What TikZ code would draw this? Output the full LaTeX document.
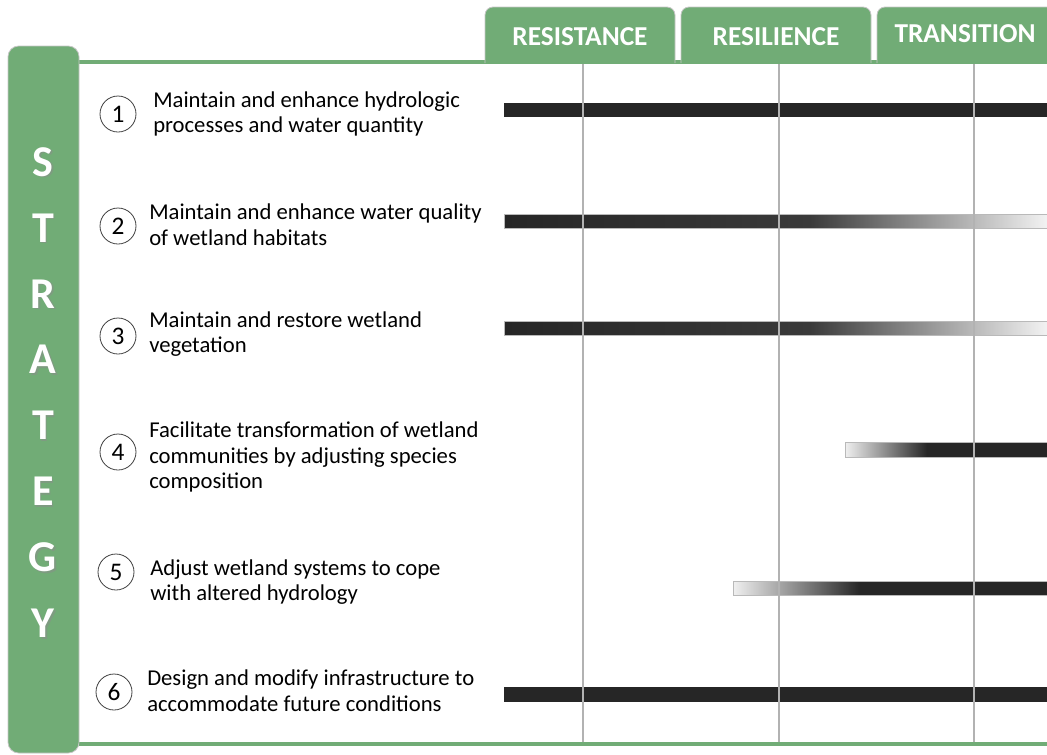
\documentclass[tikz,border=0pt]{standalone}
\usepackage{fontspec}
\setmainfont{Carlito}
\usetikzlibrary{positioning}
\definecolor{stratgreen}{RGB}{113,172,118}
\definecolor{bardark}{RGB}{38,38,38}
\definecolor{barmid}{RGB}{58,58,58}
\definecolor{gridgray}{RGB}{178,178,178}

\begin{document}
\begin{tikzpicture}[x=0.75pt,y=-0.75pt,
    tab/.style={fill=stratgreen,draw=gray!45,line width=0.6pt,rounded corners=6pt},
    tablabel/.style={text=white,font=\fontsize{20.5}{24}\selectfont\bfseries},
    letter/.style={text=white,font=\fontsize{33}{36}\selectfont\bfseries},
    shadow/.style={text=black!45,opacity=0.5,font=\fontsize{33}{36}\selectfont\bfseries},
    num/.style={circle,draw=black!75,line width=0.6pt,minimum size=27pt,inner sep=0pt,
                font=\fontsize{19}{22}\selectfont},
    item/.style={anchor=west,align=left,inner sep=0pt,font=\fontsize{17}{19.3}\selectfont},
    bar/.style={draw=gray!55,line width=0.5pt}]

    \useasboundingbox (0,0) rectangle (1047,754);

    % frame lines and strategy column
    \draw[stratgreen,line width=2.3pt] (79,62) -- (1047,62);
    \draw[stratgreen,line width=3pt] (79,744) -- (1047,744);
    \draw[tab,rounded corners=8pt] (8,46) rectangle (79,753);
    \foreach \l [count=\i] in {S,T,R,A,T,E,G,Y}{
        \node[shadow] (ls\i) at (44.5,{163.5+65.9*(\i-1)}) {\l};
        \node[letter] (l\i) at (43,{162+65.9*(\i-1)}) {\l};
    }

    % column tabs
    \draw[tab] (485,63) -- (485,7) -- (675,7) -- (675,63);
    \draw[tab] (681,63) -- (681,7) -- (871,7) -- (871,63);
    \draw[tab] (877,63) -- (877,7) -- (1060,7) -- (1060,63);
    \node[tablabel] (resist) at (580,37) {RESISTANCE};
    \node[tablabel] (resil) at (776,37) {RESILIENCE};
    \node[tablabel] (trans) at (965,34) {TRANSITION};

    % bars
    \fill[bardark] (504,103) rectangle (1047,117);
    \foreach \y in {221,328}{
        \shade[left color=bardark,right color=barmid] (504,\y-7) rectangle (810,\y+7);
        \shade[left color=barmid,right color=black!5] (810,\y-7) rectangle (1047,\y+7);
        \draw[bar] (504,\y-7) rectangle (1047,\y+7);
    }
    \shade[left color=black!6,right color=bardark] (845,442) rectangle (927,457);
    \fill[bardark] (927,442) rectangle (1047,457);
    \draw[bar] (845,442) rectangle (1047,457);
    \shade[left color=black!6,right color=bardark] (733,581) rectangle (860,595);
    \fill[bardark] (860,581) rectangle (1047,595);
    \draw[bar] (733,581) rectangle (1047,595);
    \fill[bardark] (504,687) rectangle (1047,702);

    \foreach \x in {583,779,974}
        \draw[gridgray,line width=1.4pt] (\x,64) -- (\x,742);

    % strategies
    \node[num] (n1) at (118,114) {1};
    \node[item] (s1) at (153,114) {Maintain and enhance hydrologic\\processes and water quantity};
    \node[num] (n2) at (118,226) {2};
    \node[item] (s2) at (149,225) {Maintain and enhance water quality\\of wetland habitats};
    \node[num] (n3) at (118,336) {3};
    \node[item] (s3) at (149,334) {Maintain and restore wetland\\vegetation};
    \node[num] (n4) at (118,452) {4};
    \node[item] (s4) at (149,457) {Facilitate transformation of wetland\\communities by adjusting species\\composition};
    \node[num] (n5) at (116,572) {5};
    \node[item] (s5) at (150,582) {Adjust wetland systems to cope\\with altered hydrology};
    \node[num] (n6) at (114,692) {6};
    \node[item] (s6) at (147,691) {Design and modify infrastructure to\\accommodate future conditions};
\end{tikzpicture}
\end{document}
